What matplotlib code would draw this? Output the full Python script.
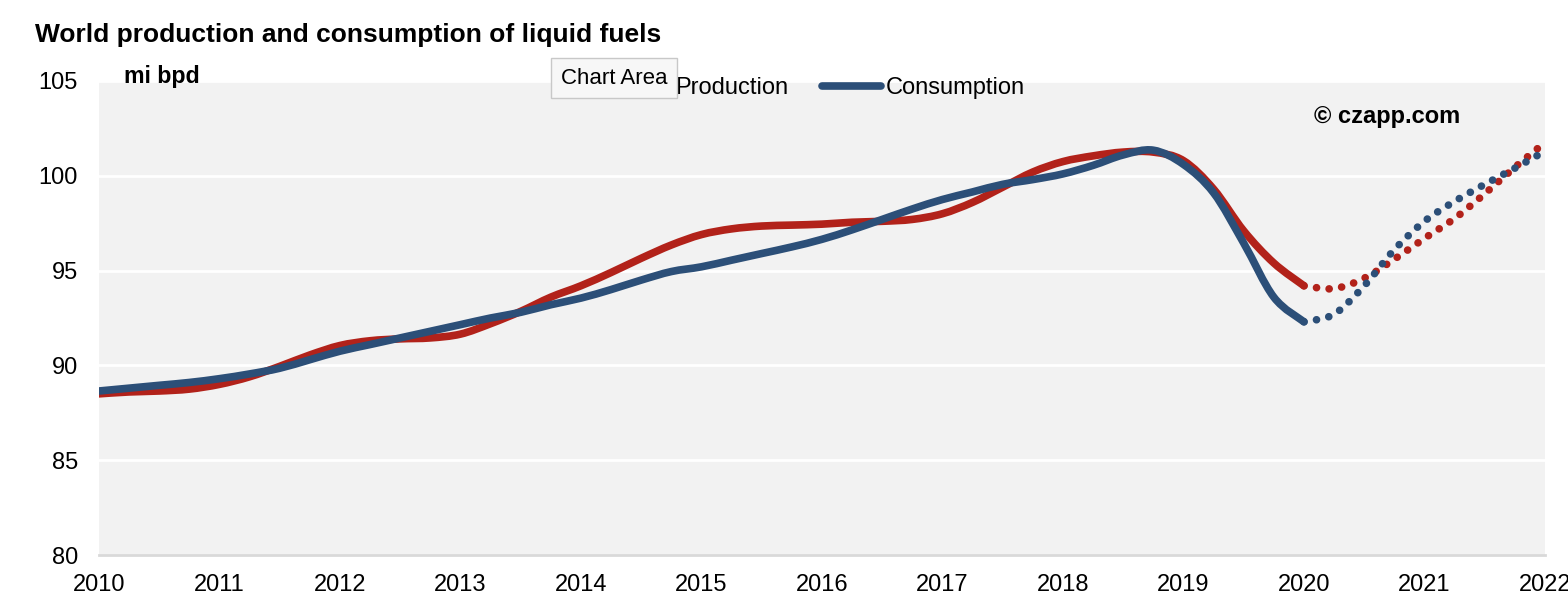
import numpy as np
import matplotlib.pyplot as plt
from matplotlib.path import Path
from matplotlib.patches import PathPatch
from matplotlib.lines import Line2D

plt.rcParams['font.family'] = ['Liberation Sans', 'DejaVu Sans']

# Quarterly readings, 2010 Q1 .. 2020 Q1 (actual)
years = np.arange(2010, 2020.01, 0.25)
production = [88.5, 88.6, 88.65, 88.75, 89.0, 89.4, 89.95, 90.55,
              91.05, 91.3, 91.4, 91.45, 91.65, 92.2, 92.85, 93.6,
              94.2, 94.9, 95.65, 96.35, 96.9, 97.2, 97.35, 97.4,
              97.45, 97.55, 97.6, 97.7, 98.0, 98.6, 99.4, 100.2,
              100.75, 101.05, 101.25, 101.25, 100.8, 99.3, 97.1, 95.4,
              94.2]
consumption = [88.65, 88.8, 88.95, 89.1, 89.3, 89.55, 89.85, 90.3,
               90.75, 91.1, 91.45, 91.8, 92.15, 92.5, 92.8, 93.2,
               93.55, 94.0, 94.5, 94.95, 95.2, 95.55, 95.9, 96.25,
               96.65, 97.15, 97.7, 98.25, 98.75, 99.15, 99.55, 99.8,
               100.1, 100.55, 101.1, 101.35, 100.6, 99.1, 96.45, 93.6,
               92.3]

# Forecast 2020 .. 2022
fc_years = np.arange(2020, 2022.01, 0.25)
fc_production = [94.2, 94.05, 94.6, 95.6, 96.7, 97.75, 99.05, 100.45, 101.75]
fc_consumption = [92.3, 92.7, 94.2, 96.1, 97.6, 98.65, 99.55, 100.4, 101.3]

year_ticks = list(range(2010, 2023))
y_ticks = [80, 85, 90, 95, 100, 105]

red = '#b2221a'
blue = '#2c4f78'


def smooth_path(x, y):
    # excel-style smoothed line: bezier segments through the data points
    p = np.column_stack([x, y])
    ext = np.vstack([p[0], p, p[-1]])
    verts = [p[0]]
    codes = [Path.MOVETO]
    for i in range(len(p) - 1):
        c1 = ext[i + 1] + (ext[i + 2] - ext[i]) / 6
        c2 = ext[i + 2] - (ext[i + 3] - ext[i + 1]) / 6
        verts += [c1, c2, ext[i + 2]]
        codes += [Path.CURVE4] * 3
    return Path(verts, codes)


fig = plt.figure(figsize=(15.68, 6.04), dpi=100)
ax = fig.add_axes([0.0631, 0.0811, 0.9222, 0.7848])
ax.set_facecolor('#f2f2f2')

for x, y, c, z in [(years, production, red, 3), (years, consumption, blue, 4)]:
    patch = PathPatch(smooth_path(x, y), fill=False, ec=c, lw=5.5, zorder=z)
    patch.set_capstyle('round')
    patch.set_joinstyle('round')
    ax.add_patch(patch)

for x, y, c, z in [(fc_years, fc_production, red, 3), (fc_years, fc_consumption, blue, 4)]:
    patch = PathPatch(smooth_path(x, y), fill=False, ec=c, lw=5.5,
                      linestyle=(0, (0.01, 1.65)), zorder=z)
    patch.set_capstyle('round')
    ax.add_patch(patch)

ax.set_xlim(2010, 2022)
ax.set_ylim(80, 105)
ax.set_xticks(year_ticks)
ax.set_yticks(y_ticks)
ax.tick_params(length=0, labelsize=17, colors='black')
ax.tick_params(axis='y', pad=15)
ax.tick_params(axis='x', pad=14)
ax.grid(axis='y', color='white', lw=2)
ax.set_axisbelow(True)
for s in ['top', 'right', 'left']:
    ax.spines[s].set_visible(False)
ax.spines['bottom'].set_color('#d9d9d9')
ax.spines['bottom'].set_linewidth(2)

fig.text(35 / 1568, 1 - 35 / 604, 'World production and consumption of liquid fuels',
         fontsize=19, fontweight='bold', va='center', ha='left')
fig.text(124 / 1568, 1 - 77 / 604, 'mi bpd', fontsize=16.7, fontweight='bold',
         va='center', ha='left')
fig.text(1314 / 1568, 1 - 116 / 604, '© czapp.com', fontsize=17, fontweight='bold',
         va='center', ha='left')

handles = [Line2D([], [], color=red, lw=5.5, solid_capstyle='round'),
           Line2D([], [], color=blue, lw=5.5, solid_capstyle='round')]
fig.legend(handles, ['Production', 'Consumption'], loc='center',
           bbox_to_anchor=(818 / 1568, 1 - 88 / 604), ncol=2,
           frameon=False, fontsize=17, handlelength=2.5, handletextpad=0.2,
           columnspacing=1.4)

# tooltip left in the screenshot
fig.text(614 / 1568, 1 - 78 / 604, 'Chart Area', fontsize=16, ha='center', va='center',
         bbox=dict(boxstyle='square,pad=0.42', fc='#f7f7f7', ec='#c8c8c8', lw=1),
         zorder=10)

fig.savefig('out.png', dpi=100)
